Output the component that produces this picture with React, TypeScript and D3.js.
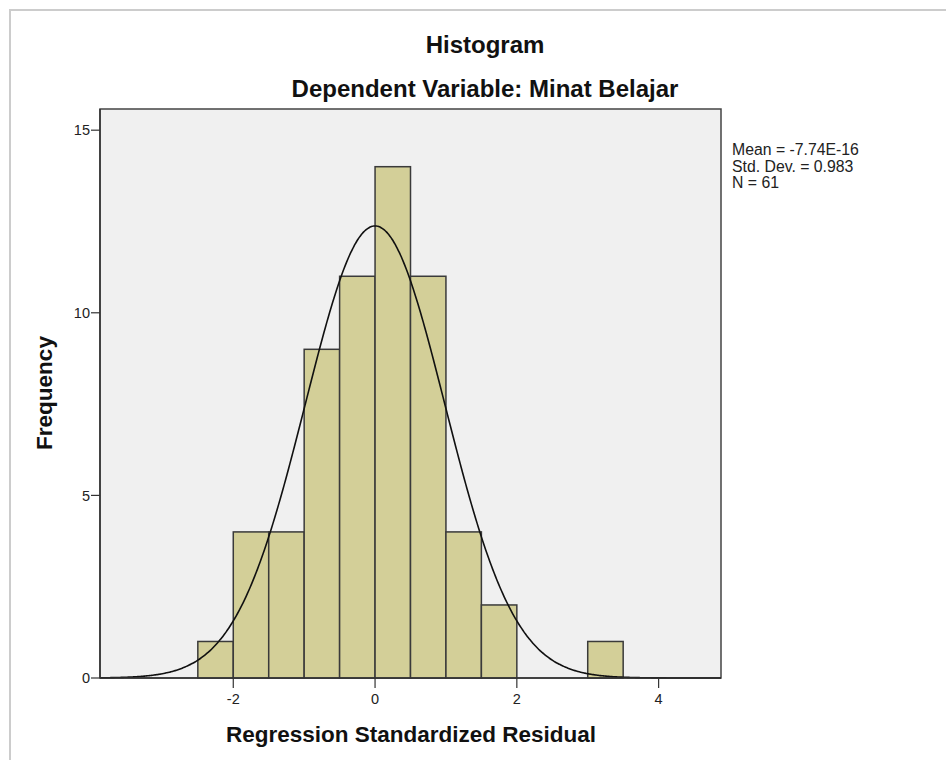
import * as d3 from 'd3';
import React from 'react';

// histogram bins (lower edge, upper edge) and counts
const binStarts = [-2.5, -2, -1.5, -1, -0.5, 0, 0.5, 1, 1.5, 3];
const binWidth = 0.5;
const counts = [1, 4, 4, 9, 11, 14, 11, 4, 2, 1];

const xTicks = [-2, 0, 2, 4];
const yTicks = [0, 5, 10, 15];

// summary stats shown at the right
const stats = { mean: -7.74e-16, sd: 0.983, n: 61 };
const statLines = ['Mean = -7.74E-16', 'Std. Dev. = 0.983', 'N = 61'];

const W = 946;
const H = 760;

export default function App() {
    const plot = { left: 100, right: 721, top: 109, bottom: 678 };

    const x = d3.scaleLinear().domain([-3.88, 4.88]).range([plot.left, plot.right]);
    const y = d3.scaleLinear().domain([0, 15.58]).range([plot.bottom, plot.top]);

    // normal curve scaled to counts: N * binWidth * pdf
    const k = stats.n * binWidth / (stats.sd * Math.sqrt(2 * Math.PI));
    const curvePts = d3.range(-3.88, 4.8801, 0.02).map(v => {
        const z = (v - stats.mean) / stats.sd;
        return [v, k * Math.exp(-0.5 * z * z)] as [number, number];
    });
    const line = d3.line<[number, number]>()
        .x(d => x(d[0]))
        .y(d => y(d[1]))
        .curve(d3.curveBasis);

    const font = '"Liberation Sans", Arial, sans-serif';

    return (
        <svg width={W} height={H} style={{ position: 'absolute', left: 0, top: 0, background: '#fff' }}
            fontFamily={font}>
            {/* outer frame */}
            <rect x={10} y={10} width={W} height={H} fill="none" stroke="#cccccc" strokeWidth={2} />

            <text x={485} y={53} textAnchor="middle" fontSize={24} fontWeight="bold" fill="#111">Histogram</text>
            <text x={485} y={97} textAnchor="middle" fontSize={24} fontWeight="bold" fill="#111">
                Dependent Variable: Minat Belajar
            </text>

            {/* plot background */}
            <rect x={plot.left} y={plot.top} width={plot.right - plot.left} height={plot.bottom - plot.top}
                fill="#f0f0f0" stroke="#444" strokeWidth={1.5} />

            {/* bars */}
            {binStarts.map((b, i) => (
                <rect key={i}
                    x={x(b)} y={y(counts[i])}
                    width={x(b + binWidth) - x(b)} height={y(0) - y(counts[i])}
                    fill="#d3cf98" stroke="#3a3a3a" strokeWidth={1.5} />
            ))}

            {/* normal curve */}
            <path d={line(curvePts) || ''} fill="none" stroke="#111" strokeWidth={1.6} />

            {/* axes lines */}
            <line x1={plot.left} x2={plot.right} y1={plot.bottom} y2={plot.bottom} stroke="#333" strokeWidth={1.5} />
            <line x1={plot.left} x2={plot.left} y1={plot.top} y2={plot.bottom} stroke="#333" strokeWidth={1.5} />

            {/* y ticks */}
            {yTicks.map(t => (
                <g key={t}>
                    <line x1={plot.left - 9} x2={plot.left} y1={y(t)} y2={y(t)} stroke="#333" strokeWidth={1.2} />
                    <text x={plot.left - 10} y={y(t)} dy="0.36em" textAnchor="end" fontSize={14.5} fill="#222">{t}</text>
                </g>
            ))}

            {/* x ticks */}
            {xTicks.map(t => (
                <g key={t}>
                    <line x1={x(t)} x2={x(t)} y1={plot.bottom} y2={plot.bottom + 10} stroke="#333" strokeWidth={1.2} />
                    <text x={x(t)} y={plot.bottom + 26} textAnchor="middle" fontSize={14.5} fill="#222">{t}</text>
                </g>
            ))}

            <text x={411} y={742} textAnchor="middle" fontSize={22.5} fontWeight="bold" fill="#111">
                Regression Standardized Residual
            </text>
            <text transform={`translate(52,${393}) rotate(-90)`} textAnchor="middle" fontSize={22.5}
                fontWeight="bold" fill="#111">Frequency</text>

            {/* stats */}
            {statLines.map((s, i) => (
                <text key={i} x={732} y={155 + i * 16.5} fontSize={15.8} fill="#222">{s}</text>
            ))}
        </svg>
    );
}
